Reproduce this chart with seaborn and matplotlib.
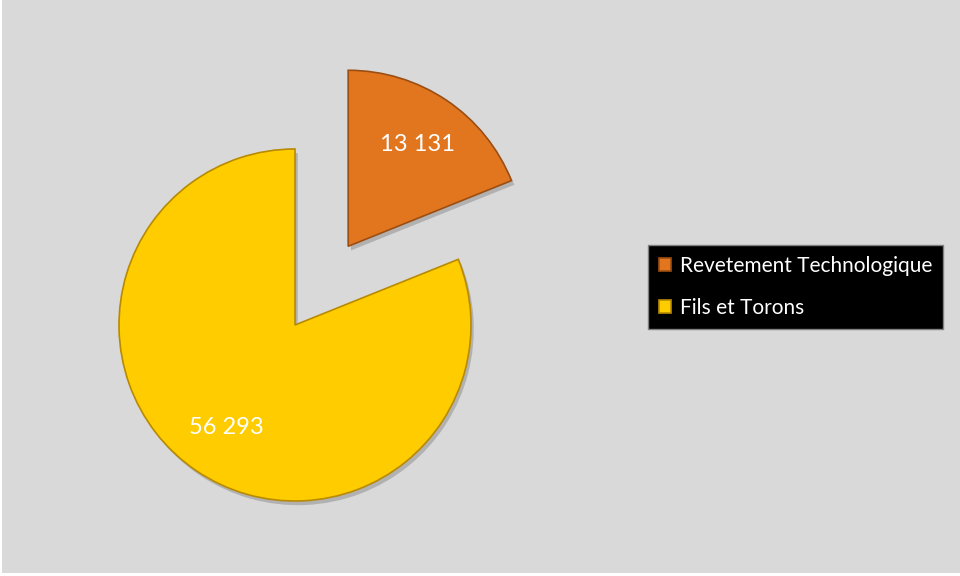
import matplotlib
matplotlib.use("Agg")
import matplotlib.pyplot as plt
import matplotlib.patheffects as pe
import seaborn as sns

categories = ["Revetement Technologique", "Fils et Torons"]
values = [13131, 56293]
colors = ["#E2761F", "#FFCC00"]
edge_colors = ["#9C4E12", "#B88A00"]

sns.set_theme(style="white")
plt.rcParams["font.family"] = ["Lato", "DejaVu Sans"]

W, H = 960, 576
fig = plt.figure(figsize=(W / 100, H / 100), dpi=100, facecolor="white")
ax = fig.add_axes([2 / W, 3 / H, 1 - 2 / W, 1 - 3 / H])
ax.set_facecolor("#D9D9D9")

vals_iter = iter(values)


def fmt(p):
    v = next(vals_iter)
    return f"{v:,}".replace(",", " ")


wedges, texts, autotexts = ax.pie(
    values,
    colors=colors,
    startangle=90,
    counterclock=False,
    center=(295, H - 325),
    radius=176,
    explode=[95, 0.0],
    autopct=fmt,
    pctdistance=0.7,
    wedgeprops=dict(linewidth=1.2),
    textprops=dict(color="white", fontsize=17),
    frame=True,
)
for w, ec in zip(wedges, edge_colors):
    w.set_edgecolor(ec)
    w.set_path_effects([pe.SimplePatchShadow(offset=(2, -3), shadow_rgbFace="#8a8a8a", alpha=0.5), pe.Normal()])
ax.set_xlim(2, W)
ax.set_ylim(3, H)
ax.set_aspect("equal")
ax.set_xticks([])
ax.set_yticks([])
for s in ax.spines.values():
    s.set_visible(False)

leg = ax.legend(
    wedges,
    categories,
    loc="upper left",
    bbox_to_anchor=(648 / W, 1 - 245 / H),
    bbox_transform=fig.transFigure,
    frameon=True,
    fancybox=False,
    facecolor="black",
    edgecolor="#7f7f7f",
    framealpha=1,
    fontsize=15,
    labelcolor="white",
    handlelength=0.55,
    handleheight=0.55,
    handletextpad=0.45,
    labelspacing=1.05,
    borderpad=0.53,
    borderaxespad=0,
)
leg.get_frame().set_linewidth(1)
for h in leg.legend_handles:
    h.set_path_effects([])

fig.savefig("out.png", dpi=100, facecolor=fig.get_facecolor())
